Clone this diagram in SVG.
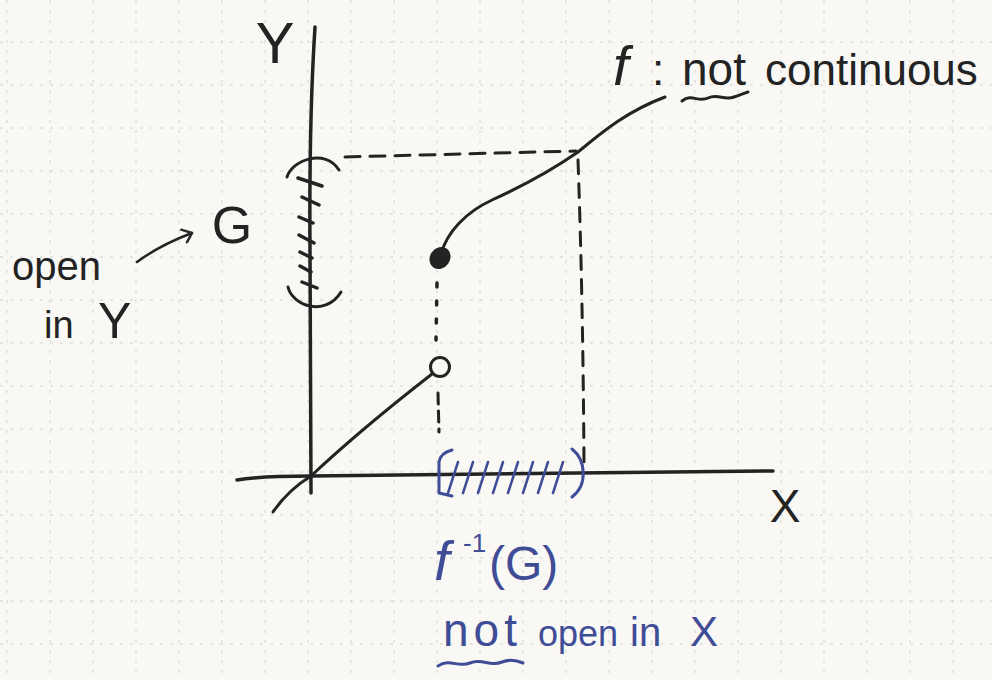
<svg xmlns="http://www.w3.org/2000/svg" width="992" height="680" viewBox="0 0 992 680">
<defs>
<style>
.ink{fill:none;stroke:#232323;stroke-linecap:round;stroke-linejoin:round}
.blue{fill:none;stroke:#3f4c96;stroke-linecap:round;stroke-linejoin:round}
.grid{fill:none;stroke:#d2d2cd;stroke-width:1;stroke-dasharray:3 7}
.t{font-family:"Liberation Sans","DejaVu Sans",sans-serif;fill:#232323}
.tb{font-family:"Liberation Sans","DejaVu Sans",sans-serif;fill:#3f4c96}
.it{font-style:italic}
</style>
<marker id="hook" markerUnits="userSpaceOnUse" viewBox="0 0 14 16" refX="12" refY="8" markerWidth="14" markerHeight="16" orient="auto">
<path d="M3,1 L12,8 L4,15" fill="none" stroke="#2a2a2a" stroke-width="2.5" stroke-linecap="round" stroke-linejoin="round"/>
</marker>
</defs>
<rect width="992" height="680" fill="#f9f8f4"/>
<g id="grid" class="grid">
<path d="M7,0V680M50,0V680M93,0V680M136,0V680M179,0V680M222,0V680M265,0V680M308,0V680M351,0V680M394,0V680M437,0V680M480,0V680M523,0V680M566,0V680M609,0V680M652,0V680M695,0V680M738,0V680M781,0V680M824,0V680M867,0V680M910,0V680M953,0V680"/>
<path d="M0,42H992M0,85H992M0,128H992M0,171H992M0,214H992M0,257H992M0,300H992M0,343H992M0,386H992M0,429H992M0,472H992M0,515H992M0,558H992M0,601H992M0,644H992"/>
</g>
<g id="axes">
<path id="y-axis" class="ink" stroke-width="3.5" d="M315,27 Q309,120 310,250 L311,493"/>
<path id="x-axis" class="ink" stroke-width="3.5" d="M237,480 Q260,476 310,476 L773,471"/>
</g>
<g id="label-Y"><text class="t" x="275" y="63" font-size="58" text-anchor="middle">Y</text></g>
<g id="label-X"><text class="t" x="785" y="522" font-size="46" text-anchor="middle">X</text></g>
<g id="set-G-interval">
<path class="ink" stroke-width="3" d="M287,177 C292,160 325,148 339,170"/>
<path class="ink" stroke-width="3" d="M288,287 C292,305 325,318 341,292"/>
<path class="ink" stroke-width="3.5" d="M298,178 L322,186 M302,197 L319,205 M299,217 L313,223 M299,235 L314,243 M300,252 L312,258 M300,266 L311,272 M302,282 L317,288"/>
</g>
<g id="label-G"><text class="t" x="232" y="243" font-size="52" text-anchor="middle">G</text></g>
<g id="label-open-in-Y">
<text class="t" x="12" y="280" font-size="40">open</text>
<text class="t" y="338" font-size="38"><tspan x="44">in</tspan><tspan x="98" font-size="50">Y</tspan></text>
</g>
<g id="graph-f">
<path class="ink" stroke-width="3" d="M273,512 Q288,490 311,476 Q360,430 432,374"/>
<circle id="open-point" cx="440" cy="367" r="9.5" fill="#f9f8f4" stroke="#232323" stroke-width="3"/>
<path class="ink" stroke-width="3" d="M441,254 C447,232 466,212 492,200 C525,185 555,168 578,152 C600,134 625,112 665,97"/>
<ellipse id="closed-point" cx="440" cy="258" rx="10" ry="11.5" transform="rotate(35 440 258)" fill="#232323"/>
</g>
<g id="connectors">
<path class="ink" stroke-width="3" stroke-dasharray="15 10" d="M345,157 L576,151"/>
<path class="ink" stroke-width="3" stroke-dasharray="14 10" d="M578,160 Q583,300 584,466"/>
<path class="ink" stroke-width="3.5" stroke-dasharray="4 14" d="M437,283 L436,340"/>
<path class="ink" stroke-width="3" stroke-dasharray="11 7" d="M438,393 L439,432"/>
<path class="ink" stroke-width="2.5" stroke="#2a2a2a" marker-end="url(#hook)" d="M137,262 Q160,245 192,233"/>
</g>
<g id="preimage-interval">
<path class="blue" stroke-width="3" d="M452,450 C444,452 440,456 439,462 L439,493 L452,496"/>
<path class="blue" stroke-width="3" d="M572,449 C586,460 588,485 572,497"/>
<path class="blue" stroke-width="2.5" d="M448,493 L458,462 M463,493 L473,462 M478,493 L488,462 M493,493 L503,462 M508,493 L518,462 M523,493 L533,462 M538,493 L548,462 M553,493 L563,462"/>
</g>
<g id="label-f-not-continuous">
<text class="t" y="85"><tspan x="613" font-size="56" class="it">f</tspan><tspan x="652" font-size="44">:</tspan><tspan x="682" font-size="46">not</tspan><tspan x="765" font-size="44">continuous</tspan></text>
<path class="ink" stroke-width="3" d="M682,101 C692,93 698,103 708,98 C718,93 724,101 734,97 C740,95 745,93 748,92"/>
</g>
<g id="label-preimage">
<text class="tb" y="580"><tspan x="434" font-size="56" class="it">f</tspan><tspan x="463" y="552" font-size="26">-1</tspan><tspan x="489" y="580" font-size="48">(G)</tspan></text>
</g>
<g id="label-not-open-in-X">
<text class="tb" y="646"><tspan x="443" font-size="46" letter-spacing="5">not</tspan><tspan x="538" font-size="36">open</tspan><tspan x="630" font-size="40">in</tspan><tspan x="690" font-size="42">X</tspan></text>
<path class="blue" stroke-width="3" d="M438,666 C450,658 458,668 470,663 C482,658 490,667 502,662 C510,659 516,660 523,663"/>
</g>
</svg>
